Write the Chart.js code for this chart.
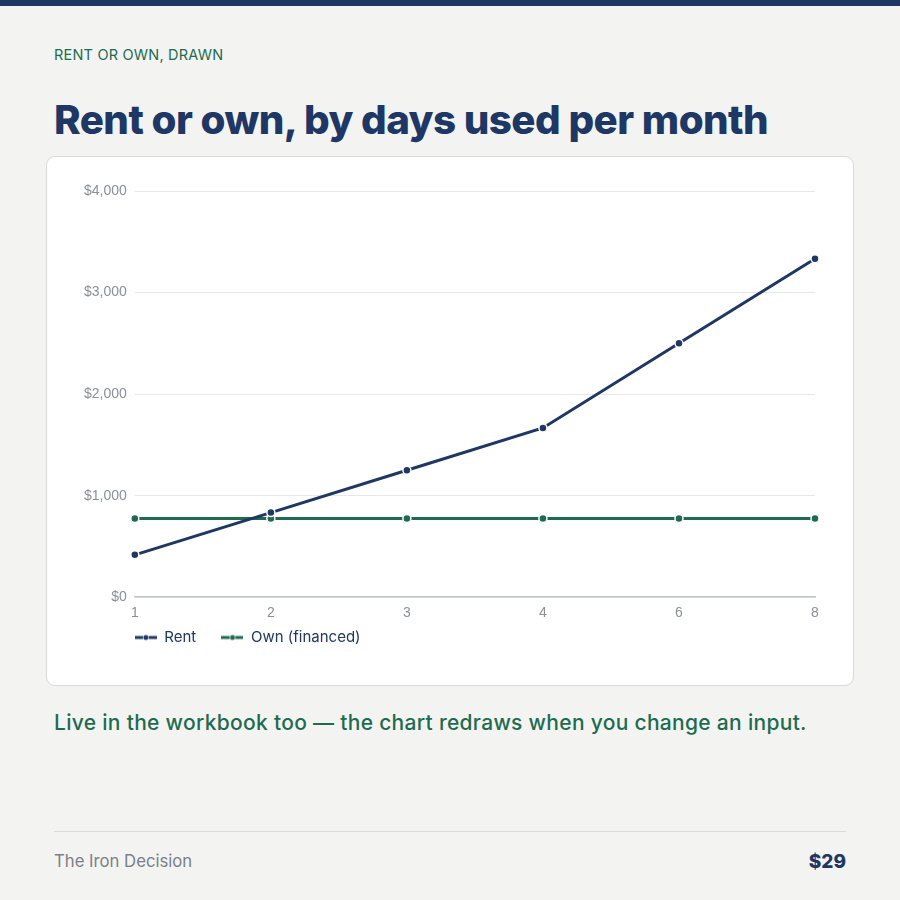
<!DOCTYPE html>
<html>
<head>
<meta charset="utf-8">
<script src="https://cdn.jsdelivr.net/npm/chart.js@4.4.1/dist/chart.umd.min.js"></script>
<style>
  html, body { margin: 0; padding: 0; }
  body { width: 900px; height: 900px; background: #f3f4f2; position: relative; overflow: hidden; font-family: "Inter", "Noto Sans", sans-serif; }
  .topbar { position: absolute; left: 0; top: 0; width: 900px; height: 6px; background: #1e3765; }
  .kicker { position: absolute; left: 54px; top: 46px; font-size: 14.5px; color: #1e6b50; letter-spacing: 0.2px; }
  .title { position: absolute; left: 54px; top: 95px; font-size: 40.3px; font-weight: 800; color: #1e3765; letter-spacing: -0.55px; white-space: nowrap; }
  .card { position: absolute; left: 46px; top: 156px; width: 806px; height: 528px; background: #fff; border: 1px solid #d8dbd8; border-radius: 9px; }
  .card canvas { position: absolute; left: 0; top: 0; }
  .caption { position: absolute; left: 54px; top: 710px; font-size: 21px; font-weight: 500; color: #1e6b50; letter-spacing: 0.3px; white-space: nowrap; }
  .rule { position: absolute; left: 54px; top: 831px; width: 792px; height: 1px; background: #d9dbd9; }
  .brand { position: absolute; left: 54px; top: 851px; font-size: 16.7px; color: #7b8088; }
  .price { position: absolute; right: 54px; top: 850px; font-size: 19px; font-weight: 800; color: #1e3765; }
</style>
</head>
<body>
<div class="topbar"></div>
<div class="kicker">RENT OR OWN, DRAWN</div>
<div class="title">Rent or own, by days used per month</div>
<div class="card"><canvas id="chart" width="806" height="528"></canvas></div>
<div class="caption">Live in the workbook too — the chart redraws when you change an input.</div>
<div class="rule"></div>
<div class="brand">The Iron Decision</div>
<div class="price">$29</div>
<script>
const daysUsed = ['1', '2', '3', '4', '6', '8'];
const rentCost = [417, 833, 1250, 1667, 2500, 3333];
const ownCost = [775, 775, 775, 775, 775, 775];
const seriesNames = ['Rent', 'Own (financed)'];
const navy = '#1e3765';
const green = '#1e6b50';

// legend swatch: short line with a dot in the middle
function legendSwatch(color) {
    const c = document.createElement('canvas');
    c.width = 22; c.height = 8;
    const g = c.getContext('2d');
    g.fillStyle = color;
    g.fillRect(0, 2.5, 8, 3);
    g.fillRect(14, 2.5, 8, 3);
    g.beginPath();
    g.arc(11, 4, 2.5, 0, Math.PI * 2);
    g.fill();
    return c;
}

function renderChart() {
    const ctx = document.getElementById('chart').getContext('2d');
    new Chart(ctx, {
        type: 'line',
        data: {
            labels: daysUsed,
            datasets: [
                {
                    label: seriesNames[0],
                    data: rentCost,
                    borderColor: navy,
                    backgroundColor: navy,
                    borderWidth: 3,
                    pointRadius: 4,
                    pointBorderColor: '#fff',
                    pointBorderWidth: 1.5,
                    pointBackgroundColor: navy,
                    tension: 0
                },
                {
                    label: seriesNames[1],
                    data: ownCost,
                    borderColor: green,
                    backgroundColor: green,
                    borderWidth: 3,
                    pointRadius: 4,
                    pointBorderColor: '#fff',
                    pointBorderWidth: 1.5,
                    pointBackgroundColor: green,
                    tension: 0
                }
            ]
        },
        options: {
            responsive: false,
            animation: false,
            layout: { padding: { left: 29, right: 38, top: 34, bottom: 30 } },
            plugins: {
                tooltip: { enabled: false },
                legend: {
                    position: 'bottom',
                    align: 'start',
                    fullSize: false,
                    labels: {
                        usePointStyle: true,
                        pointStyleWidth: 22,
                        boxHeight: 8,
                        padding: 0,
                        color: navy,
                        font: { family: 'Inter', size: 15 },
                        generateLabels(chart) {
                            // trailing spaces keep the gap between the two entries
                            return chart.data.datasets.map((d, i) => ({
                                text: i === 0 ? d.label + '\u2003\u2002\u2009' : d.label,
                                fillStyle: d.borderColor,
                                strokeStyle: d.borderColor,
                                pointStyle: legendSwatch(d.borderColor),
                                fontColor: navy,
                                lineWidth: 0,
                                datasetIndex: i,
                                hidden: false
                            }));
                        }
                    }
                }
            },
            scales: {
                x: {
                    type: 'category',
                    offset: false,
                    grid: { display: false, drawTicks: false },
                    border: { display: true, color: '#c2c6ca', width: 1.5 },
                    ticks: { color: '#8a8f98', font: { family: 'Liberation Sans', size: 14 }, padding: 8 }
                },
                y: {
                    type: 'linear',
                    min: 0,
                    max: 4000,
                    grid: { color: '#e6e8e9', drawTicks: false },
                    border: { display: false },
                    ticks: {
                        stepSize: 1000,
                        padding: 8,
                        color: '#8a8f98',
                        font: { family: 'Liberation Sans', size: 14 },
                        callback: v => '$' + v.toLocaleString('en-US')
                    }
                }
            }
        }
    });
}

window.onload = renderChart;
</script>
</body>
</html>
